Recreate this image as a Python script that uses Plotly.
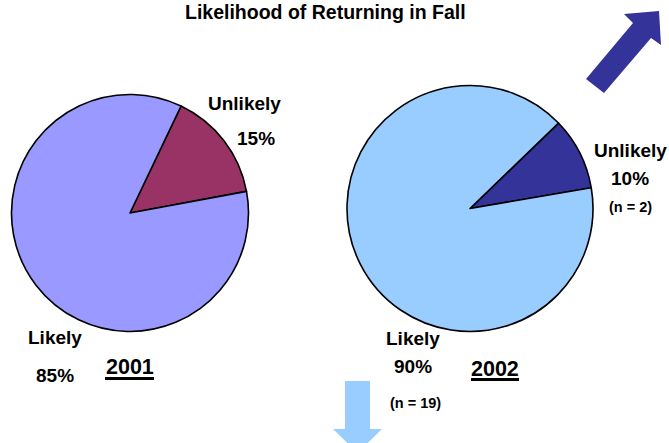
import plotly.graph_objects as go

W, H = 669, 443

# Data
categories = ["Unlikely", "Likely"]
values_2001 = [15, 85]
values_2002 = [2, 19]          # counts (n = 2, n = 19)
pct_2001 = ["15%", "85%"]
pct_2002 = ["10%", "90%"]
years = ["2001", "2002"]
title_text = "Likelihood of Returning in Fall"

colors_2001 = ["#993366", "#9999FF"]
colors_2002 = ["#333399", "#99CCFF"]

FONT = "Arial, Liberation Sans, sans-serif"


def dom(cx, cy, r):
    return dict(x=[(cx - r) / W, (cx + r) / W],
                y=[1 - (cy + r) / H, 1 - (cy - r) / H])


fig = go.Figure()
fig.add_trace(go.Pie(labels=categories, values=values_2001, sort=False,
                     direction="clockwise", rotation=25.5,
                     marker=dict(colors=colors_2001, line=dict(color="black", width=1.6)),
                     textinfo="none", hoverinfo="skip", showlegend=False,
                     domain=dom(130, 213, 118.5)))
fig.add_trace(go.Pie(labels=categories, values=values_2002, sort=False,
                     direction="clockwise", rotation=46,
                     marker=dict(colors=colors_2002, line=dict(color="black", width=1.6)),
                     textinfo="none", hoverinfo="skip", showlegend=False,
                     domain=dom(470, 208.5, 123)))

# invisible pixel-space axes for decorations
fig.update_layout(
    xaxis=dict(range=[0, W], visible=False, domain=[0, 1], fixedrange=True),
    yaxis=dict(range=[H, 0], visible=False, domain=[0, 1], fixedrange=True),
)

ann = []
def txt(x, y, s, size=19):
    ann.append(dict(x=x, y=y, xref="x", yref="y", text="<b>" + s + "</b>",
                    showarrow=False, font=dict(family=FONT, size=size, color="black"),
                    xanchor="center", yanchor="middle"))

txt(325, 12, title_text, 19.5)
txt(244, 103, categories[0])
txt(256, 138, pct_2001[0])
txt(55, 337, categories[1])
txt(55, 375, pct_2001[1])
txt(130, 367, years[0], 21.5)
txt(630, 150, categories[0])
txt(630, 178, pct_2002[0])
txt(630.5, 206.5, "(n = %d)" % values_2002[0], 14.5)
txt(413, 338, categories[1])
txt(412.5, 366, pct_2002[1])
txt(495, 369, years[1], 21.5)
txt(415, 403, "(n = %d)" % values_2002[1], 14.5)

shapes = [
    dict(type="path", xref="x", yref="y",
         path="M659,11 L624,14 L633,23 L586,79 L604,93 L651,38 L661,45 Z",
         fillcolor="#333399", line=dict(width=0)),
    dict(type="path", xref="x", yref="y",
         path="M345,381 L370,381 L370,429 L382,429 L357.5,453 L333,429 L345,429 Z",
         fillcolor="#99CCFF", line=dict(width=0)),
    # underlines of year labels
    dict(type="line", xref="x", yref="y", x0=105, x1=154, y0=378.5, y1=378.5,
         line=dict(color="black", width=3)),
    dict(type="line", xref="x", yref="y", x0=471, x1=519, y0=379.5, y1=379.5,
         line=dict(color="black", width=3)),
]

fig.update_layout(width=W, height=H, margin=dict(l=0, r=0, t=0, b=0),
                  paper_bgcolor="white", plot_bgcolor="rgba(0,0,0,0)",
                  annotations=ann, shapes=shapes, showlegend=False)

fig.write_html("out.html", config={"displayModeBar": False, "staticPlot": True},
               post_script="document.body.style.margin='0';document.body.style.overflow='hidden';")
